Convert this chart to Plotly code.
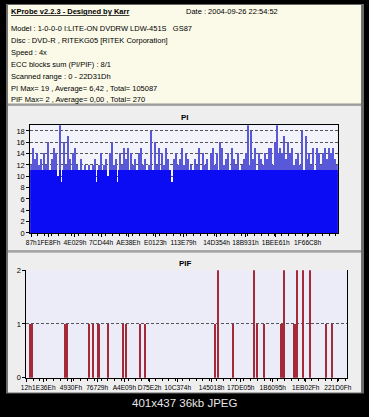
import plotly.graph_objects as go

W, H = 369, 417

# ---------------- data ----------------
info_title = "KProbe v2.2.3 - Designed by Karr"
info_date = "Date : 2004-09-26 22:54:52"
info_lines = [
    "Model : 1-0-0-0 I:LITE-ON DVDRW LDW-451S   GS87",
    "Disc : DVD-R , RITEKG05 [RITEK Corporation]",
    "Speed : 4x",
    "ECC blocks sum (PI/PIF) : 8/1",
    "Scanned range : 0 - 22D31Dh",
    "PI Max= 19 , Average= 6,42 , Total= 105087",
    "PIF Max= 2 , Average= 0,00 , Total= 270",
]

pi_values = [
    12, 15, 13, 14, 12, 13, 11, 14, 12, 16, 11, 13, 15, 14, 10, 19, 9, 16, 12, 17,
    13, 11, 14, 15, 12, 11, 13, 11, 12, 11, 12, 11, 12, 13, 9, 12, 14, 11, 12, 13,
    10, 14, 16, 12, 13, 9, 14, 12, 15, 13, 15, 11, 14, 12, 13, 11, 14, 15, 12, 13,
    11, 12, 18, 11, 16, 12, 15, 11, 14, 12, 15, 13, 11, 9, 13, 14, 12, 13, 15, 12,
    14, 13, 11, 12, 11, 13, 12, 15, 11, 14, 12, 13, 11, 14, 15, 12, 14, 11, 16, 15,
    12, 13, 14, 11, 15, 13, 12, 14, 11, 12, 13, 14, 19, 12, 18, 13, 15, 11, 14, 13,
    12, 14, 13, 15, 15, 12, 16, 19, 14, 15, 14, 17, 13, 16, 14, 15, 12, 13, 14, 12,
    18, 11, 17, 13, 14, 12, 15, 11, 15, 14, 12, 14, 15, 13, 15, 14, 15, 13, 12,
]
pi_base_level = 11
pi_tick_pos = [0, 9.0, 22.6, 36.1, 50.2, 64.2, 78.7, 95.8, 110.8, 126.4, 142.9]
pi_tick_text = ["87h", "1FE8Fh", "4E029h", "7CD44h", "AE38Eh", "E0123h",
                "113E79h", "14D354h", "18B931h", "1BEE61h", "1F66C8h"]

pif_pos = [4, 6, 40, 43, 65, 69, 75, 85, 100, 103, 118, 123,
           195, 198, 214, 235, 238, 246, 263, 265, 266, 277, 280, 286, 293, 309, 316]
pif_val = [1, 1, 1, 1, 1, 1, 1, 1, 1, 1, 1, 1,
           1, 2, 1, 2, 1, 1, 1, 1, 2, 1, 2, 2, 2, 1, 1]
pif_tick_pos = [0, 18, 46, 73, 101, 127, 156, 191, 221, 254, 288, 321]
pif_tick_text = ["12h", "1E36Eh", "4930Fh", "76729h", "A4E09h", "D75E2h",
                 "10C374h", "145018h", "17DE05h", "1B6095h", "1EB02Fh", "221D0Fh"]

# ---------------- layout helpers ----------------
def px(x):
    return x / W

def py(y):
    return 1 - y / H

FONT = "Liberation Sans, Arial, sans-serif"

pi_x_dom = [px(25), px(342)]
pi_y_dom = [py(234), py(124)]
pif_x_dom = [px(21), px(351)]
pif_y_dom = [py(382), py(272)]

fig = go.Figure()

idx = list(range(len(pi_values)))
pi_floor = [min(v, pi_base_level) for v in pi_values]

fig.add_bar(x=idx, y=pi_values, width=0.6, marker=dict(color="#5858d8", line=dict(width=0)),
            xaxis="x", yaxis="y", hoverinfo="skip", showlegend=False)
fig.add_bar(x=idx, y=pi_floor, width=1.0, marker=dict(color="#0c0cf4", line=dict(width=0)),
            xaxis="x", yaxis="y", hoverinfo="skip", showlegend=False)
fig.add_bar(x=pif_pos, y=pif_val, width=1.6, marker=dict(color="#a52a38", line=dict(width=0)),
            xaxis="x2", yaxis="y2", hoverinfo="skip", showlegend=False)

ytickfont = dict(family=FONT, size=7.5, color="#000000")
xtickfont = dict(family=FONT, size=6.6, color="#000000")

line_common = dict(showline=True, linecolor="#000000", linewidth=1, zeroline=False,
                   ticks="outside", ticklen=3, tickcolor="#000000")

fig.update_layout(
    width=W, height=H,
    margin=dict(l=0, r=0, t=0, b=0),
    paper_bgcolor="#000000",
    plot_bgcolor="rgba(0,0,0,0)",
    barmode="overlay",
    bargap=0,
    showlegend=False,
    xaxis=dict(domain=pi_x_dom, anchor="y", range=[-0.5, len(pi_values) - 0.5],
               tickmode="array", tickvals=pi_tick_pos, ticktext=pi_tick_text, tickangle=0,
               mirror=True, showgrid=False, tickfont=xtickfont,
               minor=dict(tickmode="linear", tick0=0, dtick=3.5, ticklen=2, tickcolor="#000000"),
               **line_common),
    yaxis=dict(domain=pi_y_dom, anchor="x", range=[0, 19], tickmode="array",
               tickvals=list(range(0, 19, 2)), mirror=True, showgrid=True, tickfont=ytickfont,
               gridcolor="#555555", griddash="3px,2px", gridwidth=1, **line_common),
    yaxis3=dict(overlaying="y", anchor="x", side="right", range=[0, 19], tickmode="array",
                tickvals=list(range(0, 19, 2)), showgrid=False, showline=False, zeroline=False,
                ticks="outside", ticklen=3, tickcolor="#000000", tickfont=ytickfont),
    xaxis2=dict(domain=pif_x_dom, anchor="y2", range=[0, 330],
                tickmode="array", tickvals=pif_tick_pos, ticktext=pif_tick_text, tickangle=0,
                mirror=False, showgrid=False, tickfont=xtickfont,
                minor=dict(tickmode="linear", tick0=0, dtick=7, ticklen=2, tickcolor="#000000"),
                **line_common),
    yaxis2=dict(domain=pif_y_dom, anchor="x2", range=[0, 2], tickmode="array",
                tickvals=[0, 1, 2], mirror=True, showgrid=True, tickfont=ytickfont,
                gridcolor="#555555", griddash="3px,2px", gridwidth=1, **line_common),
    yaxis4=dict(overlaying="y2", anchor="x2", side="right", range=[0, 2], tickmode="array",
                tickvals=[0, 1, 2], showgrid=False, showline=False, zeroline=False,
                ticks="outside", ticklen=3, tickcolor="#000000", tickfont=ytickfont),
)

def rect(x0, y0, x1, y1, color):
    return dict(type="rect", xref="paper", yref="paper", x0=px(x0), x1=px(x1),
                y0=py(y1), y1=py(y0), fillcolor=color, line=dict(width=0), layer="below")

shapes = [
    rect(0, 0, 369, 398, "#6a6a6a"),
    rect(2, 1, 366, 102, "#fbfae8"),
    rect(2, 102, 366, 104, "#9c9c9c"),
    rect(2, 104, 366, 252, "#eeeeee"),
    rect(2, 252, 366, 254, "#a4a4a4"),
    rect(2, 254, 366, 397, "#eeeeee"),
    rect(25, 124, 342, 234, "#f3f3fb"),
    rect(21, 272, 351, 382, "#ececf9"),
]
fig.update_layout(shapes=shapes)

ann = []
def text(x, y, s, size=7.5, anchor="left", color="#000000", family=FONT):
    ann.append(dict(x=px(x), y=py(y), xref="paper", yref="paper", text=s, showarrow=False,
                    xanchor=anchor, yanchor="middle", borderpad=0,
                    font=dict(family=family, size=size, color=color)))

text(4, 8, "<b><u>" + info_title + "</u></b>")
text(185, 8, info_date)
for i, line in enumerate(info_lines):
    text(4, [25, 37.5, 50, 62, 74, 86, 97.5][i], line)

text(185, 116, "<b>PI</b>", size=8, anchor="center")
text(185, 265, "<b>PIF</b>", size=8, anchor="center")
text(185, 408, "401x437 36kb JPEG", size=11.5, anchor="center", color="#e6e6e6",
     family="Liberation Sans, Arial, sans-serif")

fig.update_layout(annotations=ann)

fig.write_html("out.html", config={"displayModeBar": False},
               post_script="document.body.style.margin='0';")
